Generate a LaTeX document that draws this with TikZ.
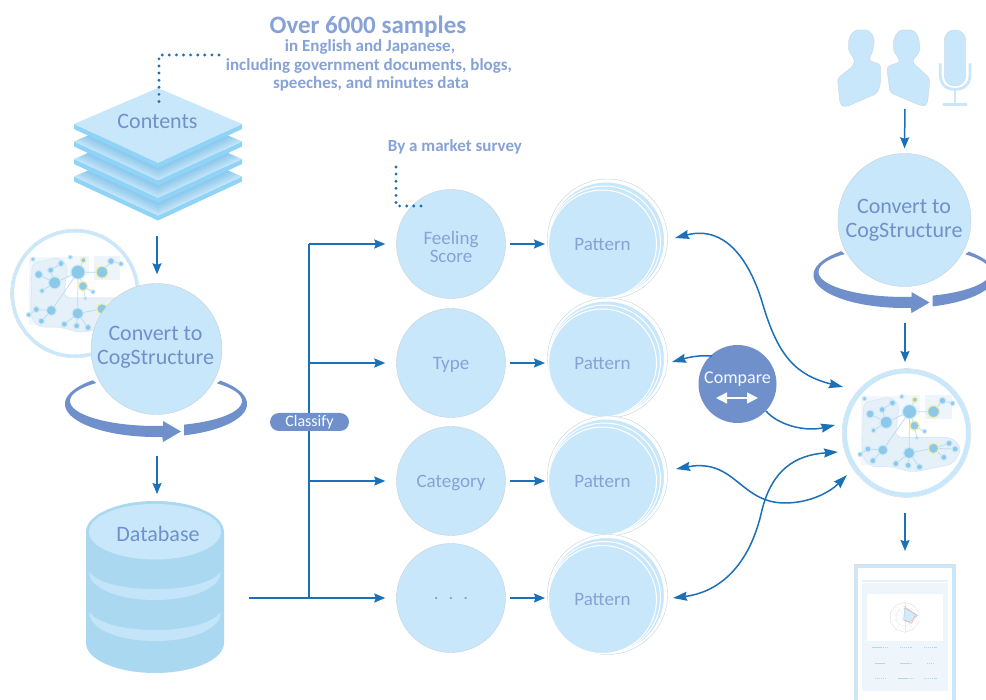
\documentclass[tikz,border=0pt]{standalone}
\usepackage{fontspec}
\setmainfont{Carlito}
\usetikzlibrary{arrows.meta,shapes.geometric,shapes.misc}
\definecolor{cfill}{HTML}{C8E7FB}
\definecolor{ctext}{HTML}{6F90CB}
\definecolor{ctextb}{HTML}{86A2D6}
\definecolor{cdark}{HTML}{1B70B8}
\definecolor{cedge}{HTML}{C4D2DA}
\definecolor{cring}{HTML}{C9E8FB}
\definecolor{cdb}{HTML}{ABD8F1}
\definecolor{cside}{HTML}{8FD3F7}
\definecolor{cblob}{HTML}{E5F0F9}
\definecolor{cmapn}{HTML}{8CC9E8}
\definecolor{cmapl}{HTML}{B7DBEF}
\definecolor{cyel}{HTML}{F1EEAE}
\newcommand{\fs}[1]{\fontsize{#1}{#1}\selectfont}
\tikzset{
  bubble/.style={circle,draw=cedge,line width=.4pt,fill=cfill,inner sep=0pt,text=ctext,align=center},
  lab/.style={text=ctext,inner sep=0pt,align=center},
  arr/.style={draw=cdark,line width=1.5pt,-{Stealth[length=11pt,width=9pt,inset=1.5pt]}},
  arrboth/.style={draw=cdark,line width=1.5pt,{Stealth[length=14pt,width=9pt,inset=1.5pt]}-{Stealth[length=14pt,width=9pt,inset=1.5pt]}},
  conn/.style={draw=cdark,line width=1.5pt},
  dots/.style={draw=cdark,line width=3.2pt,line cap=round,dash pattern=on 0pt off 7.1pt},
  mapn/.style={fill=cmapn,draw=cring,line width=1pt},
  mapy/.style={fill=cmapn,draw=cyel,line width=1.3pt},
  rowc/.style={circle,inner sep=0pt,minimum size=109pt,fill=cfill,draw=cedge,line width=.4pt,text=ctextb,font=\fs{19},align=center},
}
\newcommand{\cogmap}[2]{%
 \begin{scope}[shift={#1}]
  \fill[white] (0,0) circle (64);
  \draw[draw=cring,line width=#2pt] (0,0) circle (64-#2/2);
  \draw[cedge,line width=.3pt] (0,0) circle (64.4);
  \begin{scope}[x=.3333pt,y=-.3333pt,shift={(-259,-219)}]
   \fill[cblob!55] (122,108) rectangle (240,315);
   \fill[cblob!55] (235,105) rectangle (300,165);
   \fill[cblob!70] (315,105) rectangle (395,178);
   \fill[white] (228,172) rectangle (300,225);
   \filldraw[fill=cblob,draw=cmapl!70,line width=.4pt,rounded corners=6pt]
    (130,128) -- (212,110) -- (237,135) -- (225,232) -- (395,232) -- (425,265) -- (400,312) -- (275,337) -- (215,320) -- (150,320) -- (126,290) -- cycle;
   \draw[cmapl,line width=.7pt]
    (268,155)--(198,187) (198,187)--(150,162) (198,187)--(186,149) (186,149)--(217,129) (198,187)--(160,211)
    (268,155)--(340,155) (268,155)--(284,119) (268,155)--(283,197) (283,197)--(313,214) (283,197)--(290,234)
    (268,155)--(267,279) (268,155)--(188,270) (188,270)--(143,267) (143,267)--(120,283) (188,270)--(158,302)
    (267,279)--(227,311) (267,279)--(264,316) (267,279)--(298,321) (267,279)--(340,265) (340,265)--(387,250)
    (340,265)--(405,267) (340,265)--(371,292) (340,155)--(367,122) (367,122)--(397,130);
   \foreach \a/\b/\r in {133/116/6,245/110/6,367/122/10,397/130/7,217/129/9,186/149/9,150/162/12,268/155/21,198/187/18,160/211/7,313/214/6,290/234/5,143/267/9,120/283/7,188/270/15,158/302/9,267/279/17,387/250/9,405/267/9,371/292/9,227/311/9,264/316/9,298/321/9}
     {\filldraw[mapn] (\a,\b) circle[radius=\r];}
   \foreach \a/\b/\r in {284/119/8,340/155/18,283/197/14,340/265/16}
     {\filldraw[mapy] (\a,\b) circle[radius=\r];}
  \end{scope}
 \end{scope}}
\newcommand{\spinring}[1]{%
 \begin{scope}[shift={#1}]
  \fill[ctext] plot[smooth,domain=226:86,samples=50] ({91*cos(\x)},{55+33*sin(\x)})
     -- (7,93) -- (25,82.5) -- (7,72) -- (7,77)
     -- plot[smooth,domain=85:226,samples=50] ({86*cos(\x)},{52+25*sin(\x)}) -- cycle;
  \fill[ctext] plot[smooth,domain=72:-45,samples=40] ({91*cos(\x)},{55+33*sin(\x)})
     -- plot[smooth,domain=-45:71,samples=40] ({86*cos(\x)},{52+25*sin(\x)}) -- cycle;
 \end{scope}}
\newcommand{\patstack}[3]{%
 \begin{scope}[shift={(0,#2)}]
  \filldraw[fill=white,draw=cedge,line width=.4pt] (607.5,-5) circle (60);
  \filldraw[fill=cfill,draw=white,line width=1pt] (606.5,-4) circle (58);
  \filldraw[fill=cfill,draw=white,line width=1pt] (604.5,-2) circle (56);
  \node[circle,fill=cfill,draw=white,line width=1pt,inner sep=0pt,minimum size=108pt,text=ctextb,font=\fs{19}] (#1) at (602.5,0) {#3};
 \end{scope}}
\begin{document}
\begin{tikzpicture}[x=1pt,y=-1pt]
\useasboundingbox (0,0) rectangle (986,700);
\clip (0,0) rectangle (986,700);
\fill[white] (0,0) rectangle (986,700);

% top texts
\node[lab,text=ctextb,font=\bfseries\fs{25}] (t1) at (368,26.5) {Over 6000 samples};
\node[lab,text=ctextb,font=\bfseries\fs{17}] (t2) at (370,47) {in English and Japanese,};
\node[lab,text=ctextb,font=\bfseries\fs{17}] (t3) at (369,66) {including government documents, blogs,};
\node[lab,text=ctextb,font=\bfseries\fs{17}] (t4) at (371,84) {speeches, and minutes data};
\node[lab,text=ctextb,font=\bfseries\fs{17}] (t5) at (455,147) {By a market survey};

% contents stack
\foreach \d in {52.5,35,17.5,0}{
 \begin{scope}[shift={(0,\d)}]
  \fill[cside] (74,124) -- (158,163) -- (242,124) -- (242,129) -- (158,168) -- (74,129) -- cycle;
  \fill[cfill] (74,124) -- (158,88) -- (242,124) -- (158,163) -- cycle;
 \end{scope}
 \ifdim\d pt>0pt
 \begin{scope}
  \clip (74,124+\d) -- (158,88+\d) -- (242,124+\d) -- (158,163+\d) -- cycle;
  \foreach \k in {0,2,...,12}
    \fill[black!40!blue!50!cyan,opacity=.05] (74,129+\d-17.5+\k) -- (158,94+\d-17.5+\k) -- (242,129+\d-17.5+\k) -- (158,168+\d-17.5+\k) -- cycle;
 \end{scope}
 \fi
}
\node[lab,font=\fs{22}] (contents) at (157.5,121) {Contents};
\coordinate (stackb) at (157,220);
\coordinate (d1a) at (219,55);
\coordinate (d1b) at (159,55);
\coordinate (d1c) at (159,104);
\draw[dots] (d1a) -- (d1b) -- (d1c);

% left convert
\cogmap{(75,293.5)}{3}
\spinring{(156,349)}
\node[bubble,minimum size=131pt,font=\fs{22}] (convL) at (156.5,349) {};
\node[lab,font=\fs{22}] (convLt) at (155.5,347) {Convert to\\[2pt]CogStructure};
\draw[arr,shorten <=16pt,shorten >=9pt] (stackb) -- (convL.north -| stackb);

% database
\fill[cdb] (86,532) arc[start angle=180,end angle=360,x radius=69,y radius=31] -- (224,643) arc[start angle=0,end angle=180,x radius=69,y radius=30] -- cycle;
\fill[cfill!85!cdb] (89.5,572) .. controls (105,595) and (205,595) .. (220.5,572) .. controls (222,586) and (195,600) .. (155,600) .. controls (115,600) and (88,586) .. (89.5,572) -- cycle;
\fill[cfill!85!cdb] (89.5,612) .. controls (105,636) and (205,636) .. (220.5,612) .. controls (222,627) and (195,641) .. (155,641) .. controls (115,641) and (88,627) .. (89.5,612) -- cycle;
\node[ellipse,fill=cfill,inner sep=0pt,minimum width=132pt,minimum height=55.5pt] (db) at (155,531.7) {};
\node[lab,font=\fs{22}] (dbt) at (158,533.5) {Database};
\coordinate (ringb) at (157,447);
\coordinate (dbT) at (157,501);
\draw[arr,shorten <=9pt,shorten >=7pt] (ringb) -- (dbT);

% classify trunk
\node[rowc] (n1) at (451,244) {};
\node[lab,text=ctextb,font=\fs{19}] (n1t) at (451,246.5) {Feeling\\[-1pt]Score};
\node[rowc] (n2) at (451,363) {};
\node[lab,text=ctextb,font=\fs{19}] (n2t) at (451,365) {Type};
\node[rowc] (n3) at (451,481) {};
\node[lab,text=ctextb,font=\fs{19}] (n3t) at (451,483) {Category};
\node[rowc] (n4) at (451,598) {};
\node[lab,text=ctextb,font=\fs{19}] (n4t) at (451,598) {.\hspace{10pt}.\hspace{10pt}.};
\coordinate (trStart) at (249,598);
\coordinate (trBot) at (309,598);
\coordinate (trTop) at (309,244);
\coordinate (tr2) at (309,363);
\coordinate (tr3) at (309,481);
\draw[conn] (trTop) -- (trBot);
\draw[arr,shorten >=11pt] (trStart) -- (n4.west);
\draw[arr,shorten >=11pt] (trTop) -- (n1.west);
\draw[arr,shorten >=11pt] (tr2) -- (n2.west);
\draw[arr,shorten >=11pt] (tr3) -- (n3.west);
\node[rounded rectangle,fill=ctext,text=white!90!cfill,minimum width=79pt,minimum height=18pt,inner sep=0pt,font=\fs{16}] (classify) at (309.5,422) {Classify};
\coordinate (d2a) at (396,167);
\coordinate (d2b) at (396,206);
\coordinate (d2c) at (427,206);
\draw[dots] (d2a) -- (d2b) -- (d2c);

% patterns
\patstack{p1}{244}{Pattern}
\patstack{p2}{363}{Pattern}
\patstack{p3}{481}{Pattern}
\patstack{p4}{599.5}{Pattern}
\foreach \i in {1,2,3,4}
  \draw[arr,shorten <=4.5pt,shorten >=3pt] (n\i.east) -- (p\i.west |- n\i.east);

% right column
\cogmap{(906.5,433)}{4.5}
\spinring{(904.5,220)}
\node[bubble,minimum size=133pt,font=\fs{22}] (convR) at (904.5,220) {};
\node[lab,font=\fs{22}] (convRt) at (904,220.5) {Convert to\\[2pt]CogStructure};
\node[circle,fill=ctext,inner sep=0pt,minimum size=78pt] (cmp) at (737.5,384) {};
\node[lab,text=white!85!cfill,font=\fs{18}] (cmpt) at (737.5,379) {Compare};
\coordinate (cmpL) at (716,398);
\coordinate (cmpR) at (758,398);
\draw[white!90!cfill,line width=1.5pt,{Triangle[length=11pt,width=11pt]}-{Triangle[length=11pt,width=11pt]}] (cmpL) -- (cmpR);

% curves
\coordinate (mA) at (843,387);
\coordinate (mB) at (835,425);
\coordinate (mC) at (847,475);
\coordinate (mD) at (838,452);
\coordinate (e1) at (675,238);
\coordinate (e2) at (672,362);
\coordinate (e3) at (676,469);
\coordinate (e4) at (673,598);
\coordinate (c1) at (763,305);
\coordinate (c3) at (785,503);
\coordinate (c4) at (762,510);
\coordinate (k1) at (712,356);
\coordinate (k2) at (766,411);
\draw[arrboth] (e1) .. controls (725,225) and (750,260) .. (c1) .. controls (778,355) and (795,375) .. (mA);
\draw[arr,-{Stealth[length=14pt,width=9pt,inset=1.5pt]}] (k1) .. controls (700,355) and (690,357) .. (e2);
\draw[arr,-{Stealth[length=14pt,width=9pt,inset=1.5pt]}] (k2) .. controls (778,425) and (805,432) .. (mB);
\draw[arrboth] (e3) .. controls (735,458) and (740,503) .. (c3) .. controls (810,503) and (830,492) .. (mC);
\draw[arrboth] (e4) .. controls (720,592) and (750,565) .. (c4) .. controls (772,470) and (795,455) .. (mD);

% people and mic
\begin{scope}[shift={(800,10)},x=.3333pt,y=-.3333pt]
 \filldraw[fill=cfill,draw=cedge,line width=.3pt,rounded corners=3.5pt]
   (146,85) -- (163,60) -- (207,60) -- (224,85) -- (218,125) -- (205,152) -- (242,162) -- (242,220) -- (232,250) -- (135,292) -- (120,282) -- (112,205) -- (160,168) -- (165,150) -- (145,122) -- cycle;
 \filldraw[fill=cfill,draw=cedge,line width=.3pt,rounded corners=3.5pt]
   (281,85) -- (298,60) -- (342,60) -- (357,85) -- (360,125) -- (335,155) -- (390,205) -- (382,285) -- (365,288) -- (270,248) -- (260,170) -- (302,155) -- (280,122) -- cycle;
 \filldraw[fill=cfill,draw=cedge,line width=.3pt,rounded corners=10pt] (433,60) rectangle (497,228);
 \draw[cfill,line width=2.8pt] (421,160) -- (421,195) .. controls (421,225) and (440,238) .. (465,238) .. controls (490,238) and (510,225) .. (510,195) -- (510,160);
 \draw[cfill,line width=2.5pt] (465,238) -- (465,282);
 \draw[cfill,line width=2.8pt,line cap=round] (431,283) -- (499,283);
\end{scope}
\coordinate (peopleb) at (905,100);
\draw[arr,shorten <=9pt,shorten >=5pt] (peopleb) -- (convR.north);
\coordinate (ringR) at (905,305);
\coordinate (mapT) at (905,369);
\coordinate (mapB) at (905,497);
\coordinate (repT) at (905,564);
\draw[arr,shorten <=18pt,shorten >=7pt] (ringR) -- (mapT);
\draw[arr,shorten <=16pt,shorten >=13pt] (mapB) -- (repT);

% report
\filldraw[fill=white,draw=cring,line width=4pt] (856,566) rectangle (954,720);
\draw[cedge!70,line width=.5pt] (854,720) -- (854,564) -- (956,564);
\fill[cblob] (862,579.5) rectangle (948,582);
\fill[cblob!60] (862,583) rectangle (948,691);
\fill[white] (867,594) rectangle (943,641);
\begin{scope}[shift={(904.7,617.3)}]
 \draw[black!12,line width=.4pt] (90:15) \foreach \a in {126,162,...,414}{-- (\a:15)} -- cycle;
 \draw[black!10,line width=.3pt] (90:9) \foreach \a in {126,162,...,414}{-- (\a:9)} -- cycle;
 \foreach \a in {90,126,...,414} \draw[black!8,line width=.25pt] (0,0) -- (\a:15);
 \filldraw[fill=cfill,draw=cmapn,line width=.4pt,opacity=.8] (0,-9) -- (13,-2) -- (5,5) -- (-1,3) -- cycle;
 \draw[orange!60!red!45,line width=.5pt] (-1,-11) -- (11,-3) -- (7,6) -- (0,3);
\end{scope}
\foreach \yy/\wa/\wb/\wc in {647/16/12/13,663/10/11/7,678/11/15/13}{
 \draw[cmapn!70,line width=1pt,dash pattern=on 1.5pt off .6pt] (880-\wa/2,\yy) -- (880+\wa/2,\yy);
 \draw[cmapn!70,line width=1pt,dash pattern=on 1.5pt off .6pt] (905.5-\wb/2,\yy) -- (905.5+\wb/2,\yy);
 \draw[cmapn!70,line width=1pt,dash pattern=on 1.5pt off .6pt] (930-\wc/2,\yy) -- (930+\wc/2,\yy);
}
\end{tikzpicture}
\end{document}
